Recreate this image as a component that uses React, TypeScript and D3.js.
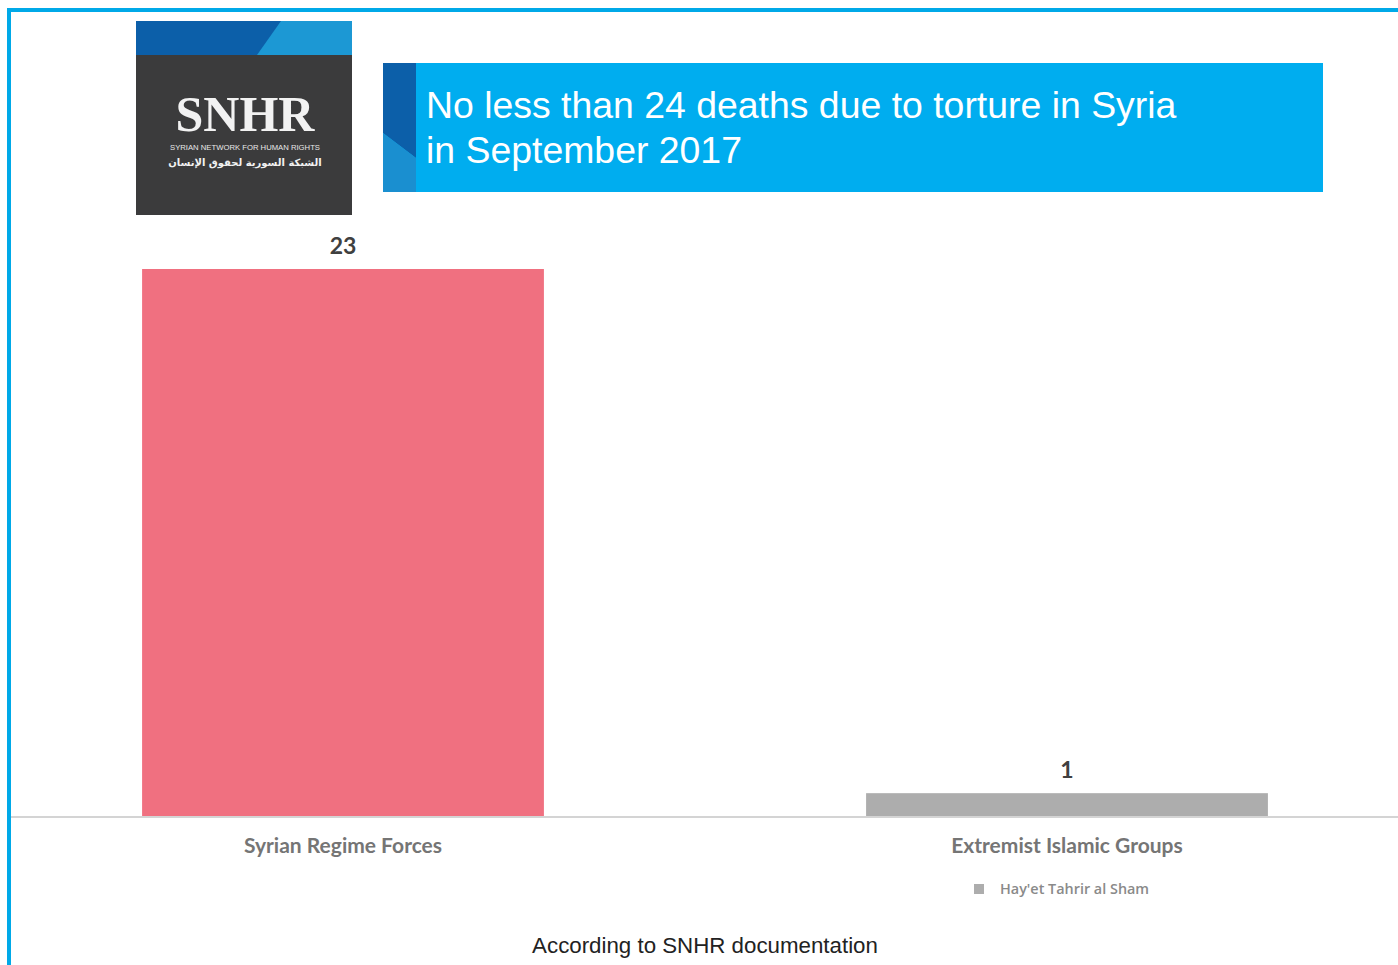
import React, { useEffect } from "react";
import * as d3 from "d3";

const categories = ["Syrian Regime Forces", "Extremist Islamic Groups"];
const values = [23, 1];
const barColors = ["#f07080", "#adadad"];
const legendLabels = ["Hay'et Tahrir al Sham"];
const titleLines = ["No less than 24 deaths due to torture in Syria", "in September 2017"];
const footer = "According to SNHR documentation";

const W = 1398;
const H = 965;

export default function App() {
  useEffect(() => {
    document.body.style.margin = "0";
  }, []);

  const x = d3
    .scaleBand<string>()
    .domain(categories)
    .range([-19, 1429])
    .paddingInner(0.445)
    .paddingOuter(0.2225);
  const y = d3.scaleLinear().domain([0, 23]).range([817, 269]);

  return (
    <svg width={W} height={H} style={{ display: "block" }}>
      <rect x={0} y={0} width={W} height={H} fill="#ffffff" />
      {/* frame */}
      <rect x={7} y={8} width={W - 7} height={4} fill="#00a9e8" />
      <rect x={7} y={8} width={4} height={H - 8} fill="#00a9e8" />

      {/* logo */}
      <g>
        <rect x={136} y={21} width={216} height={194} fill="#3b3b3c" />
        <rect x={136} y={21} width={216} height={34} fill="#0c5fa9" />
        <polygon points="281,21 352,21 352,55 257,55" fill="#1c98d4" />
        <text
          x={245}
          y={131}
          textAnchor="middle"
          fontFamily="'Liberation Serif', 'DejaVu Serif', serif"
          fontWeight="bold"
          fontSize={50}
          fill="#f2f2f2"
        >
          SNHR
        </text>
        <text
          x={170}
          y={150}
          fontFamily="'Liberation Sans', Arial, sans-serif"
          fontSize={7}
          fill="#e8e8e8"
          textLength={150}
          lengthAdjust="spacingAndGlyphs"
        >
          SYRIAN NETWORK FOR HUMAN RIGHTS
        </text>
        <text
          x={245}
          y={166}
          textAnchor="middle"
          fontFamily="'DejaVu Sans', sans-serif"
          fontWeight="bold"
          fontSize={10}
          fill="#f2f2f2"
        >
          الشبكة السورية لحقوق الإنسان
        </text>
      </g>

      {/* title banner */}
      <g>
        <rect x={383} y={63} width={940} height={129} fill="#00adef" />
        <polygon points="383,63 416,63 416,158 383,133" fill="#0c5fa9" />
        <polygon points="383,133 416,158 416,192 383,192" fill="#1a8fd0" />
        {titleLines.map((t, i) => (
          <text
            key={t}
            x={426}
            y={118 + i * 45}
            fontFamily="'Liberation Sans', Arial, Helvetica, sans-serif"
            fontSize={37.4}
            fill="#ffffff"
          >
            {t}
          </text>
        ))}
      </g>

      {/* bars */}
      {categories.map((c, i) => (
        <rect
          key={c}
          x={x(c)}
          y={y(values[i])}
          width={x.bandwidth()}
          height={y(0) - y(values[i])}
          fill={barColors[i]}
        />
      ))}
      {/* baseline */}
      <line x1={11} x2={W} y1={y(0)} y2={y(0)} stroke="#d4d4d4" strokeWidth={2} />

      {/* value labels */}
      {categories.map((c, i) => (
        <text
          key={c + "v"}
          x={(x(c) as number) + x.bandwidth() / 2}
          y={y(values[i]) - 15}
          textAnchor="middle"
          fontFamily="Lato, 'Open Sans', sans-serif"
          fontWeight="bold"
          fontSize={23}
          fill="#404040"
        >
          {values[i]}
        </text>
      ))}

      {/* category labels */}
      {categories.map((c) => (
        <text
          key={c + "c"}
          x={(x(c) as number) + x.bandwidth() / 2}
          y={853}
          textAnchor="middle"
          fontFamily="Lato, 'Open Sans', sans-serif"
          fontWeight="bold"
          fontSize={21}
          fill="#757575"
        >
          {c}
        </text>
      ))}

      {/* legend */}
      {legendLabels.map((l) => (
        <g key={l}>
          <rect x={974} y={884} width={10} height={10} fill={barColors[1]} />
          <text
            x={1000}
            y={894}
            fontFamily="'Open Sans', Roboto, sans-serif"
            fontWeight={600}
            fontSize={14.4}
            fill="#8a8a8a"
          >
            {l}
          </text>
        </g>
      ))}

      {/* footer */}
      <text
        x={705}
        y={953}
        textAnchor="middle"
        fontFamily="'Liberation Sans', Arial, sans-serif"
        fontSize={22.3}
        fill="#222222"
      >
        {footer}
      </text>
    </svg>
  );
}
